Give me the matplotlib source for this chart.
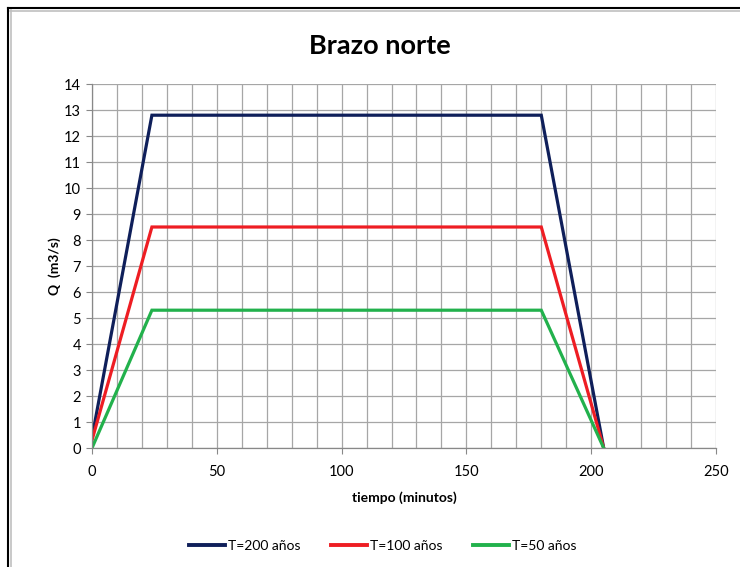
import matplotlib
matplotlib.use("Agg")
import matplotlib.pyplot as plt
from matplotlib.lines import Line2D
from matplotlib.ticker import MultipleLocator

tiempo = [0, 24, 180, 205]
q_200 = [0.4, 12.8, 12.8, 0]
q_100 = [0.3, 8.5, 8.5, 0]
q_50 = [0, 5.3, 5.3, 0]
series = [("T=200 años", q_200, "#0f1f5a"),
          ("T=100 años", q_100, "#ee1d23"),
          ("T=50 años", q_50, "#22b14c")]

plt.rcParams['font.family'] = ['Lato', 'DejaVu Sans']

fig = plt.figure(figsize=(7.4, 5.67), dpi=100)
ax = fig.add_axes([92/740, 1-448/567, (716-92)/740, (448-84)/567])

for label, vals, color in series:
    ax.plot(tiempo, vals, color=color, lw=2.3, label=label, solid_joinstyle='miter')

ax.set_xlim(0, 250)
ax.set_ylim(0, 14)
ax.xaxis.set_major_locator(MultipleLocator(50))
ax.xaxis.set_minor_locator(MultipleLocator(10))
ax.yaxis.set_major_locator(MultipleLocator(1))
ax.grid(which='major', axis='both', color='#a6a6a6', lw=0.9)
ax.grid(which='minor', axis='x', color='#a6a6a6', lw=0.9)
ax.set_axisbelow(True)
for s in ['top', 'right']:
    ax.spines[s].set_visible(False)
for s in ['left', 'bottom']:
    ax.spines[s].set_color('#888888')
    ax.spines[s].set_linewidth(0.9)
ax.tick_params(axis='both', which='major', length=4, color='#888888', labelsize=10.5, pad=4)
ax.tick_params(axis='x', which='minor', length=0)
ax.tick_params(axis='x', pad=8)

fig.text(380/740, 1-46/567, "Brazo norte", fontsize=19.5, fontweight='bold', ha='center', va='center')
ax.set_xlabel("tiempo (minutos)", fontsize=10, fontweight='bold', labelpad=9)
ax.set_ylabel("Q  (m3/s)", fontsize=10, fontweight='bold', labelpad=2)

handles = [Line2D([0], [0], color=c, lw=2.8) for _, _, c in series]
fig.legend(handles, [l for l, _, _ in series], loc='center', bbox_to_anchor=(383/740, 1-546/567),
           ncol=3, frameon=False, fontsize=10, handlelength=2.6, handletextpad=0.2, columnspacing=2.2)

# chart border (Excel style)
fig.add_artist(Line2D([8/740, 1], [1-8/567, 1-8/567], transform=fig.transFigure, color='black', lw=1.5))
fig.add_artist(Line2D([8/740, 8/740], [0, 1-8/567], transform=fig.transFigure, color='black', lw=1.5))
fig.add_artist(Line2D([10/740, 1], [1-10.5/567, 1-10.5/567], transform=fig.transFigure, color='#c0c0c0', lw=1.2))
fig.add_artist(Line2D([10.5/740, 10.5/740], [0, 1-10/567], transform=fig.transFigure, color='#c0c0c0', lw=1.2))

fig.savefig("out.png", dpi=100)
